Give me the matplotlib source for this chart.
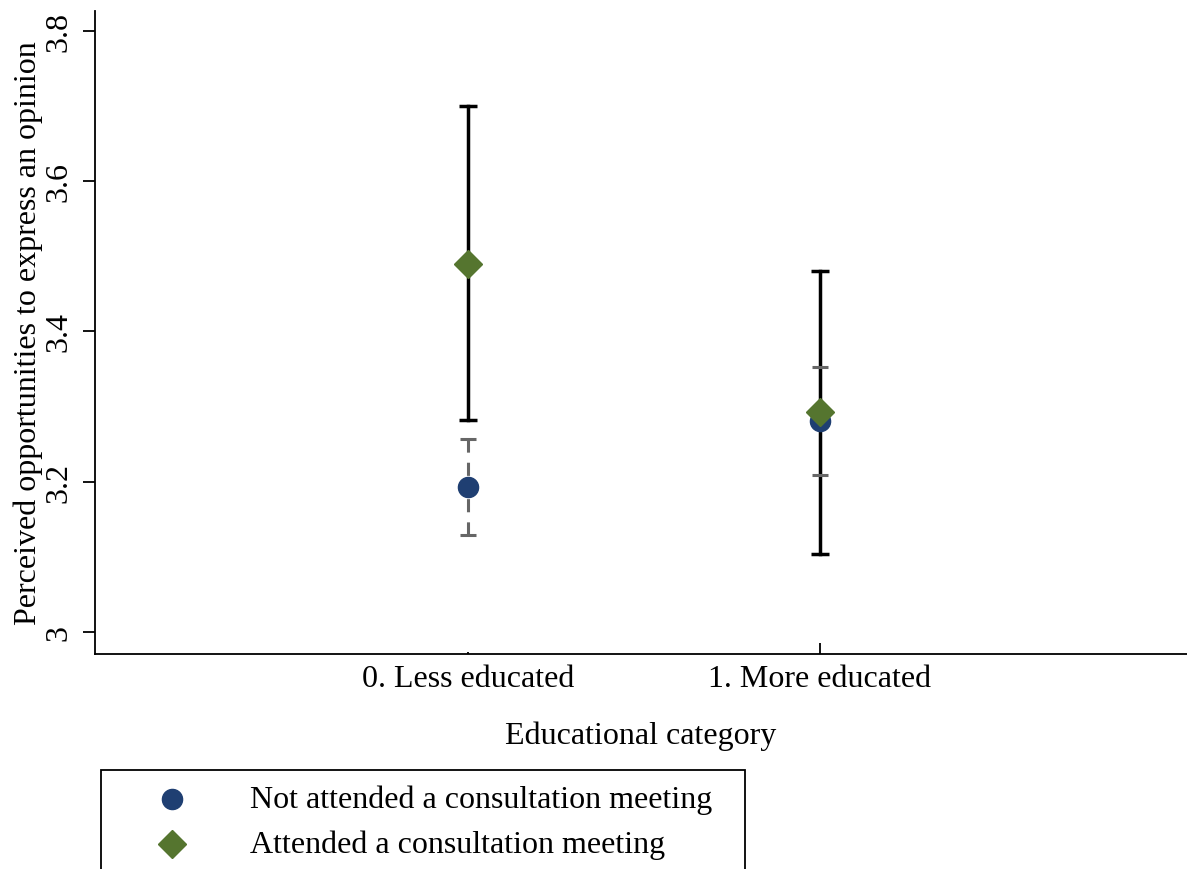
import matplotlib.pyplot as plt
from matplotlib.patches import Rectangle
from matplotlib.lines import Line2D

plt.rcParams["font.family"] = ["Liberation Serif", "DejaVu Serif"]

categories = ["0. Less educated", "1. More educated"]
x_pos = [0, 1]

# Not attended a consultation meeting
not_att_mean = [3.193, 3.281]
not_att_lo = [3.129, 3.209]
not_att_hi = [3.257, 3.353]

# Attended a consultation meeting
att_mean = [3.490, 3.293]
att_lo = [3.282, 3.104]
att_hi = [3.700, 3.481]

navy = "#1f3f72"
green = "#55752f"
gray = "#666666"
fs = 23

fig = plt.figure(figsize=(11.87, 8.70), dpi=100)
ax = fig.add_axes([95 / 1187, 215 / 870, 1092 / 1187, 643 / 870])

# attended CIs (black, solid)
for i in range(2):
    ax.plot([x_pos[i], x_pos[i]], [att_lo[i], att_hi[i]], color="black", lw=2.5, zorder=2)
    ax.plot(x_pos[i], att_lo[i], marker="_", ms=12.5, mew=2.5, color="black", zorder=2)
    ax.plot(x_pos[i], att_hi[i], marker="_", ms=12.5, mew=2.5, color="black", zorder=2)

# not attended CIs (gray); less educated drawn dashed from each cap toward the mean
ax.plot([x_pos[0], x_pos[0]], [not_att_hi[0], not_att_mean[0]], color=gray, lw=2.2,
        dashes=(4.3, 3.3), zorder=3)
ax.plot([x_pos[0], x_pos[0]], [not_att_lo[0], not_att_mean[0]], color=gray, lw=2.2,
        dashes=(4.3, 3.3), zorder=3)
ax.plot([x_pos[1], x_pos[1]], [not_att_lo[1], not_att_hi[1]], color=gray, lw=2.2, zorder=1)
for i in range(2):
    ax.plot(x_pos[i], not_att_lo[i], marker="_", ms=11, mew=2.2, color=gray, zorder=3)
    ax.plot(x_pos[i], not_att_hi[i], marker="_", ms=11, mew=2.2, color=gray, zorder=3)

ax.plot(x_pos, not_att_mean, "o", ms=14.5, color=navy, mec=navy, ls="none", zorder=4)
ax.plot(x_pos, att_mean, "D", ms=14.5, color=green, mec=green, ls="none", zorder=5)

ax.set_xlim(-1.06, 2.043)
ax.set_ylim(2.9707, 3.8266)
ax.set_xticks(x_pos)
ax.set_xticklabels(categories)
ax.set_yticks([3, 3.2, 3.4, 3.6, 3.8])
ax.set_yticklabels(["3", "3.2", "3.4", "3.6", "3.8"], rotation=90, va="center")
ax.tick_params(axis="y", length=8.6, width=1.3, labelsize=fs, pad=7)
ax.tick_params(axis="x", direction="in", length=8, width=1.3, labelsize=fs, pad=7)
ax.xaxis.get_major_ticks()[0].tick1line.set_markersize(1.5)
ax.spines["top"].set_visible(False)
ax.spines["right"].set_visible(False)
for s in ["left", "bottom"]:
    ax.spines[s].set_linewidth(1.3)

ax.set_xlabel("Educational category", fontsize=fs, labelpad=20)
ax.set_ylabel("Perceived opportunities to express an opinion", fontsize=fs, labelpad=1)

# legend box (runs off the bottom edge like the reference)
fig.patches.append(Rectangle((101 / 1187, -0.05), 644 / 1187, (870 - 771) / 870 + 0.05,
                             transform=fig.transFigure, fill=False, lw=1.3, ec="black"))
fig.lines.append(Line2D([172 / 1187], [1 - 800 / 870], marker="o", ms=14.5, color=navy,
                        transform=fig.transFigure))
fig.lines.append(Line2D([172 / 1187], [1 - 845 / 870], marker="D", ms=14.5, color=green,
                        transform=fig.transFigure))
fig.text(250 / 1187, 1 - 800 / 870, "Not attended a consultation meeting", fontsize=fs, va="center")
fig.text(250 / 1187, 1 - 845 / 870, "Attended a consultation meeting", fontsize=fs, va="center")

fig.savefig("out.png", dpi=100)
